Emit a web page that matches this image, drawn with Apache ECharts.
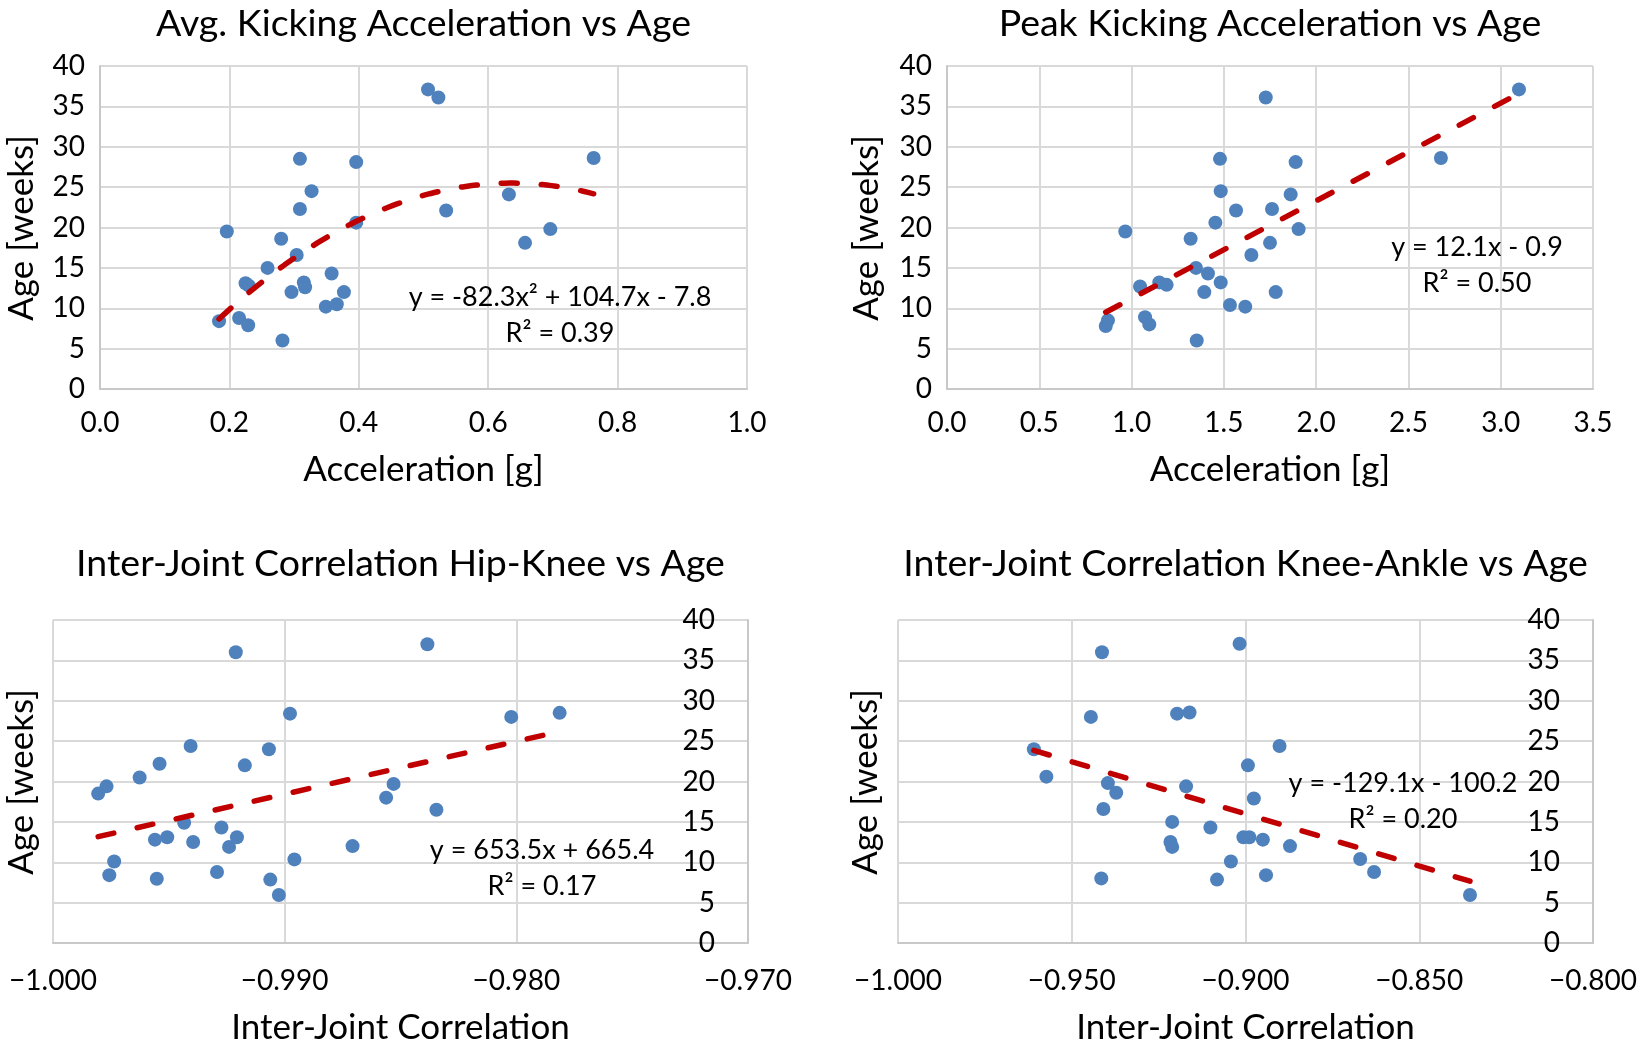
<!DOCTYPE html>
<html>
<head>
<meta charset="utf-8">
<script src="https://cdn.jsdelivr.net/npm/echarts/dist/echarts.min.js"></script>
<style>
html,body{margin:0;padding:0;background:#ffffff;}
#chart{width:1642px;height:1050px;}
</style>
</head>
<body>
<div id="chart"></div>
<script>
// ---- Panel titles ----
const panelTitles = [
  'Avg. Kicking Acceleration vs Age',
  'Peak Kicking Acceleration vs Age',
  'Inter-Joint Correlation Hip-Knee vs Age',
  'Inter-Joint Correlation Knee-Ankle vs Age'
];

// ---- Panel 1: average kicking acceleration [g] vs age [weeks] ----
const avgAccel = [0.184,0.196,0.215,0.229,0.225,0.230,0.259,0.280,0.282,0.296,0.304,0.309,0.309,0.327,0.315,0.317,0.349,0.358,0.366,0.377,0.396,0.396,0.507,0.523,0.535,0.632,0.657,0.696,0.763];
const avgAge   = [8.4,19.5,8.8,7.9,13.1,12.8,15.0,18.6,6.0,12.0,16.6,28.5,22.3,24.5,13.2,12.6,10.2,14.3,10.5,12.0,28.1,20.6,37.1,36.1,22.1,24.1,18.1,19.8,28.6];
const avgTrendCoef = [-82.3, 104.7, -7.8];   // y = a x^2 + b x + c

// ---- Panel 2: peak kicking acceleration [g] vs age ----
const peakAccel = [0.860,0.872,0.966,1.046,1.073,1.096,1.150,1.190,1.320,1.349,1.353,1.394,1.414,1.454,1.479,1.483,1.483,1.533,1.566,1.616,1.649,1.727,1.889,1.862,1.761,1.905,1.750,1.781,3.099,2.676];
const peakAge   = [7.8,8.5,19.5,12.7,8.9,8.0,13.2,12.9,18.6,15.0,6.0,12.0,14.3,20.6,28.5,24.5,13.2,10.4,22.1,10.2,16.6,36.1,28.1,24.1,22.3,19.8,18.1,12.0,37.1,28.6];
const peakTrendCoef = [12.1, -0.9];          // y = m x + b

// ---- Panel 3: hip-knee inter-joint correlation vs age ----
const hipKneeCorr = [-0.99805,-0.99769,-0.99736,-0.99757,-0.99626,-0.99560,-0.99552,-0.99540,-0.99507,-0.99434,-0.99406,-0.99395,-0.99292,-0.99273,-0.99240,-0.99211,-0.99206,-0.99172,-0.99068,-0.99062,-0.99025,-0.98977,-0.98958,-0.98707,-0.98562,-0.98530,-0.98384,-0.98345,-0.98022,-0.97813];
const hipKneeAge  = [18.5,19.4,10.1,8.4,20.5,12.8,7.95,22.2,13.1,14.9,24.4,12.5,8.8,14.3,11.9,36.0,13.1,22.0,24.0,7.85,5.95,28.4,10.35,12.0,18.0,19.7,37.0,16.5,28.0,28.5];
const hipKneeTrendCoef = [653.5, 665.4];

// ---- Panel 4: knee-ankle inter-joint correlation vs age ----
const kneeAnkleCorr = [-0.9609,-0.9573,-0.9445,-0.9413,-0.9415,-0.9409,-0.9396,-0.9372,-0.9211,-0.9216,-0.9211,-0.9197,-0.9161,-0.9171,-0.9101,-0.9082,-0.9042,-0.9017,-0.9006,-0.8989,-0.8993,-0.8976,-0.8950,-0.8941,-0.8902,-0.8872,-0.8670,-0.8630,-0.8354];
const kneeAnkleAge  = [24.0,20.6,28.0,36.0,8.0,16.6,19.8,18.6,15.0,12.5,11.9,28.4,28.55,19.4,14.3,7.85,10.1,37.05,13.1,13.1,22.0,17.9,12.8,8.4,24.4,12.0,10.4,8.8,5.95];
const kneeAnkleTrendCoef = [-129.1, -100.2];

// ---- Trendline labels ----
const trendLabels = [
  ['y = -82.3x\u00B2 + 104.7x - 7.8', 'R\u00B2 = 0.39'],
  ['y = 12.1x - 0.9', 'R\u00B2 = 0.50'],
  ['y = 653.5x + 665.4', 'R\u00B2 = 0.17'],
  ['y = -129.1x - 100.2', 'R\u00B2 = 0.20']
];

// ---- Axis ranges ----
const xRanges = [[0, 1.0, 0.2], [0, 3.5, 0.5], [-1.0, -0.97, 0.01], [-1.0, -0.8, 0.05]];
const yRange = [0, 40, 5];
const xAxisNames = ['Acceleration [g]', 'Acceleration [g]', 'Inter-Joint Correlation', 'Inter-Joint Correlation'];
const yAxisName = 'Age [weeks]';

function zip(xs, ys) { return xs.map((x, i) => [x, ys[i]]); }
function linTrend(c, xs) {
  const lo = Math.min(...xs), hi = Math.max(...xs);
  return [[lo, c[0] * lo + c[1]], [hi, c[0] * hi + c[1]]];
}
function quadTrend(c, xs) {
  const lo = Math.min(...xs), hi = Math.max(...xs);
  const out = [];
  const n = 80;
  for (let i = 0; i <= n; i++) {
    const x = lo + (hi - lo) * i / n;
    out.push([x, c[0] * x * x + c[1] * x + c[2]]);
  }
  return out;
}

const FONT = 'Lato';
const TXT = '#000000';
const GRIDC = '#D9D9D9';
const AXISC = '#C8C8C8';
const BLUE = '#4F81BD';
const RED = '#C00000';

const grids = [
  {left: 100, top: 66, width: 647, height: 323},
  {left: 947, top: 66, width: 646, height: 323},
  {left: 53, top: 620, width: 695, height: 323},
  {left: 898, top: 620, width: 695, height: 323}
];

const fmtTop = v => v.toFixed(1);
const fmtBottom = v => (v < -1e-9 ? '\u2212' : '') + Math.abs(v).toFixed(3);

const xAxes = xRanges.map((r, i) => ({
  type: 'value', gridIndex: i, min: r[0], max: r[1], interval: r[2],
  axisLine: {show: true, onZero: false, lineStyle: {color: AXISC, width: 2}},
  axisTick: {show: false},
  splitLine: {show: true, lineStyle: {color: GRIDC, width: 2}},
  axisLabel: {
    show: true, fontFamily: FONT, fontSize: 28, color: TXT,
    margin: i < 2 ? 20 : 24, showMinLabel: true, showMaxLabel: true,
    formatter: i < 2 ? fmtTop : fmtBottom
  },
  name: xAxisNames[i], nameLocation: 'middle', nameGap: i < 2 ? 63 : 67,
  nameTextStyle: {fontFamily: FONT, fontSize: 35, color: TXT}
}));

const yAxes = [0, 1, 2, 3].map(i => ({
  type: 'value', gridIndex: i, min: yRange[0], max: yRange[1], interval: yRange[2],
  position: i < 2 ? 'left' : 'right',
  axisLine: {show: true, onZero: false, lineStyle: {color: AXISC, width: 2}},
  axisTick: {show: false},
  splitLine: {show: true, lineStyle: {color: GRIDC, width: 2}},
  axisLabel: {
    show: true, inside: i >= 2, fontFamily: FONT, fontSize: 28, color: TXT,
    margin: i < 2 ? 15 : 33, showMinLabel: true, showMaxLabel: true
  }
}));

const scatterSets = [zip(avgAccel, avgAge), zip(peakAccel, peakAge), zip(hipKneeCorr, hipKneeAge), zip(kneeAnkleCorr, kneeAnkleAge)];
const trendSets = [
  quadTrend(avgTrendCoef, avgAccel),
  linTrend(peakTrendCoef, peakAccel),
  linTrend(hipKneeTrendCoef, hipKneeCorr),
  linTrend(kneeAnkleTrendCoef, kneeAnkleCorr)
];

const series = [];
for (let i = 0; i < 4; i++) {
  series.push({
    type: 'scatter', xAxisIndex: i, yAxisIndex: i, data: scatterSets[i],
    symbol: 'circle', symbolSize: 14, itemStyle: {color: BLUE, opacity: 1},
    z: 2, silent: true
  });
  series.push({
    type: 'line', xAxisIndex: i, yAxisIndex: i, data: trendSets[i],
    showSymbol: false, symbol: 'none', smooth: false,
    lineStyle: {color: RED, width: 5.5, type: [16, 24], cap: 'round'},
    z: 3, silent: true, animation: false
  });
}

// Title and annotation positions (pixels)
const titlePos = [[423.5, 24], [1270, 24], [400.5, 564], [1245.5, 564]];
const yNamePos = [[22, 228], [867, 228], [22, 782], [866, 782]];
const annPos = [[560, 297, 333], [1477, 247, 283], [542, 850, 886], [1403, 783, 819]];

const graphics = [];
for (let i = 0; i < 4; i++) {
  graphics.push({
    type: 'text', x: titlePos[i][0], y: titlePos[i][1], silent: true,
    style: {text: panelTitles[i], fill: TXT, fontFamily: FONT, fontSize: 37.5, align: 'center', verticalAlign: 'middle'}
  });
  graphics.push({
    type: 'text', x: yNamePos[i][0], y: yNamePos[i][1], rotation: Math.PI / 2, silent: true,
    style: {text: yAxisName, fill: TXT, fontFamily: FONT, fontSize: 35, align: 'center', verticalAlign: 'middle'}
  });
  graphics.push({
    type: 'text', x: annPos[i][0], y: annPos[i][1], silent: true, z: 10,
    style: {text: trendLabels[i][0], fill: TXT, fontFamily: FONT, fontSize: 27, align: 'center', verticalAlign: 'middle'}
  });
  graphics.push({
    type: 'text', x: annPos[i][0], y: annPos[i][2], silent: true, z: 10,
    style: {text: trendLabels[i][1], fill: TXT, fontFamily: FONT, fontSize: 27, align: 'center', verticalAlign: 'middle'}
  });
}

const chart = echarts.init(document.getElementById('chart'), null, {renderer: 'canvas', width: 1642, height: 1050});
chart.setOption({
  backgroundColor: '#ffffff',
  animation: false,
  textStyle: {fontFamily: FONT, color: TXT},
  grid: grids.map(g => Object.assign({containLabel: false, outerBoundsMode: 'none', show: false}, g)),
  xAxis: xAxes,
  yAxis: yAxes,
  series: series,
  graphic: graphics
});
</script>
</body>
</html>
